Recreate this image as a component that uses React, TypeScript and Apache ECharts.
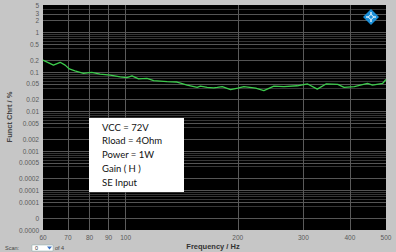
import React, { useEffect, useRef } from "react";
import * as echarts from "echarts";

const freqHz = [60, 64, 66.7, 68.8, 70.6, 73.1, 77, 81.1, 85.4, 90.9, 96.7, 100.8, 104, 108.3, 114.1, 118.9, 129.2, 137.5, 146.2, 155.6, 158.8, 165.5, 172.4, 176.2, 181.7, 191.3, 200, 207.7, 223.4, 235, 250, 266, 289, 308, 327, 345, 371, 386, 411, 446, 460, 490, 500];
const thdPct = [0.2, 0.15, 0.177, 0.15, 0.12, 0.108, 0.093, 0.0986, 0.089, 0.084, 0.076, 0.072, 0.08, 0.067, 0.069, 0.0605, 0.057, 0.056, 0.047, 0.041, 0.044, 0.041, 0.04, 0.041, 0.043, 0.036, 0.039, 0.043, 0.039, 0.034, 0.044, 0.043, 0.045, 0.05, 0.037, 0.05, 0.049, 0.041, 0.043, 0.052, 0.047, 0.052, 0.065];

const yTickValues = [5, 3, 2, 1, 0.5, 0.2, 0.1, 0.05, 0.02, 0.01, 0.005, 0.002, 0.001, 0.0005, 0.0002, 0.0001, 0.00005, 0.00002, 0.00001];
const yTickLabels = ["5", "3", "2", "1", "0.5", "0.2", "0.1", "0.05", "0.02", "0.01", "0.005", "0.002", "0.001", "0.0005", "0.0002", "0.0001", "0.0001", "0", "0.0000"];
const yMinorMultipliers = [4, 6, 7, 8, 9];
const yDecades = [0.00001, 0.0001, 0.001, 0.01, 0.1];

const xTickValues = [60, 70, 80, 90, 100, 200, 300, 400, 500];
const xTickLabels = ["60", "70", "80", "90", "100", "200", "300", "400", "500"];

const noteLines = ["VCC = 72V", "Rload = 4Ohm", "Power = 1W", "Gain ( H )", "SE Input"];

export default function App() {
  const ref = useRef<HTMLDivElement>(null);
  useEffect(() => {
    if (!ref.current) return;
    const chart = echarts.init(ref.current, null, { renderer: "svg" });
    const tickFont = { color: "#5a5a5a", fontSize: 6.5, fontFamily: "Liberation Sans" };

    const yLines: any[] = yTickValues.map((v, i) => ({
      yAxis: v,
      label: { show: true, formatter: yTickLabels[i] },
      lineStyle: { type: "solid", color: i === 0 || i === yTickValues.length - 1 ? "rgba(0,0,0,0)" : "#555555", width: 1 },
    }));
    const minorLines: any[] = [];
    yDecades.forEach((d) => {
      yMinorMultipliers.forEach((m) => {
        minorLines.push({ yAxis: d * m, label: { show: false }, lineStyle: { type: "solid", color: "#363636", width: 1 } });
      });
    });
    minorLines.push({ yAxis: 4, label: { show: false }, lineStyle: { type: "solid", color: "#363636", width: 1 } });
    const xLines: any[] = xTickValues.map((v, i) => ({
      xAxis: v,
      label: { show: true, formatter: xTickLabels[i] },
      lineStyle: { type: "solid", color: i === 0 || i === xTickValues.length - 1 ? "rgba(0,0,0,0)" : "#5a5a5a", width: 1 },
    }));

    const option: any = {
      animation: false,
      backgroundColor: "#c6c6c6",
      grid: { left: 43, top: 5, width: 343, height: 225, backgroundColor: "#000", show: true, borderWidth: 0 },
      xAxis: {
        type: "log",
        logBase: 10,
        min: 60,
        max: 500,
        axisLine: { show: false },
        axisTick: { show: false },
        axisLabel: { show: false },
        splitLine: { show: false },
      },
      yAxis: {
        type: "log",
        logBase: 10,
        min: 0.00001,
        max: 5,
        axisLine: { show: false },
        axisTick: { show: false },
        axisLabel: { show: false },
        splitLine: { show: false },
      },
      series: [
        {
          type: "line",
          data: [],
          markLine: {
            silent: true,
            precision: 12,
            symbol: ["none", "none"],
            label: { position: "start", distance: 4, ...tickFont },
            data: [...minorLines, ...yLines],
          },
        },
        {
          type: "line",
          data: [],
          markLine: {
            silent: true,
            precision: 12,
            symbol: ["none", "none"],
            label: { position: "start", distance: 4, ...tickFont },
            data: xLines,
          },
        },
        {
          type: "line",
          data: freqHz.map((f, i) => [f, thdPct[i]]),
          showSymbol: false,
          lineStyle: { color: "#3ccb4c", width: 1.3 },
          z: 5,
        },
      ],
      graphic: [
        { type: "rect", shape: { x: 89, y: 118, width: 95, height: 74 }, style: { fill: "#fff" }, z: 10 },
        ...noteLines.map((t, i) => ({
          type: "text",
          x: 102,
          y: 127 + i * 13.8,
          style: { text: t, fill: "#111", fontSize: 9.5, fontFamily: "Lato", verticalAlign: "middle" },
          z: 11,
        })),
        {
          type: "text",
          x: 9,
          y: 117,
          rotation: Math.PI / 2,
          style: { text: "Funct Chrt / %", fill: "#444", fontSize: 7.5, fontWeight: "bold", fontFamily: "Liberation Sans", align: "center", verticalAlign: "middle" },
        },
        {
          type: "text",
          x: 213,
          y: 246,
          style: { text: "Frequency / Hz", fill: "#333", fontSize: 7.5, fontWeight: "bold", fontFamily: "Liberation Sans", align: "center", verticalAlign: "middle" },
        },
        { type: "text", x: 5, y: 248, style: { text: "Scan:", fill: "#444", fontSize: 5.5, fontFamily: "Liberation Sans", verticalAlign: "middle" } },
        { type: "rect", shape: { x: 32, y: 245, width: 21, height: 6 }, style: { fill: "#fff", stroke: "#8aa", lineWidth: 0.5 } },
        { type: "text", x: 35, y: 248, style: { text: "0", fill: "#333", fontSize: 5.5, fontFamily: "Liberation Sans", verticalAlign: "middle" } },
        { type: "polygon", shape: { points: [[47, 246.5], [52, 246.5], [49.5, 249.5]] }, style: { fill: "#3a6fc0" } },
        { type: "text", x: 55, y: 248, style: { text: "of 4", fill: "#444", fontSize: 5.5, fontFamily: "Liberation Sans", verticalAlign: "middle" } },
        { type: "polygon", shape: { points: [[371, 9], [379, 17], [371, 25], [363, 17]] }, style: { fill: "#1a8fd8" }, z: 10 },
        { type: "line", shape: { x1: 366, y1: 17, x2: 376, y2: 17 }, style: { stroke: "#fff", lineWidth: 1.2 }, z: 11 },
        { type: "line", shape: { x1: 371, y1: 12, x2: 371, y2: 22 }, style: { stroke: "#fff", lineWidth: 1.2 }, z: 11 },
        { type: "circle", shape: { cx: 371, cy: 17, r: 2.2 }, style: { fill: "#1a8fd8", stroke: "#fff", lineWidth: 0.8 }, z: 12 },
      ],
    };
    chart.setOption(option);
    return () => chart.dispose();
  }, []);
  return <div ref={ref} style={{ position: "fixed", left: 0, top: 0, width: 396, height: 252 }} />;
}
